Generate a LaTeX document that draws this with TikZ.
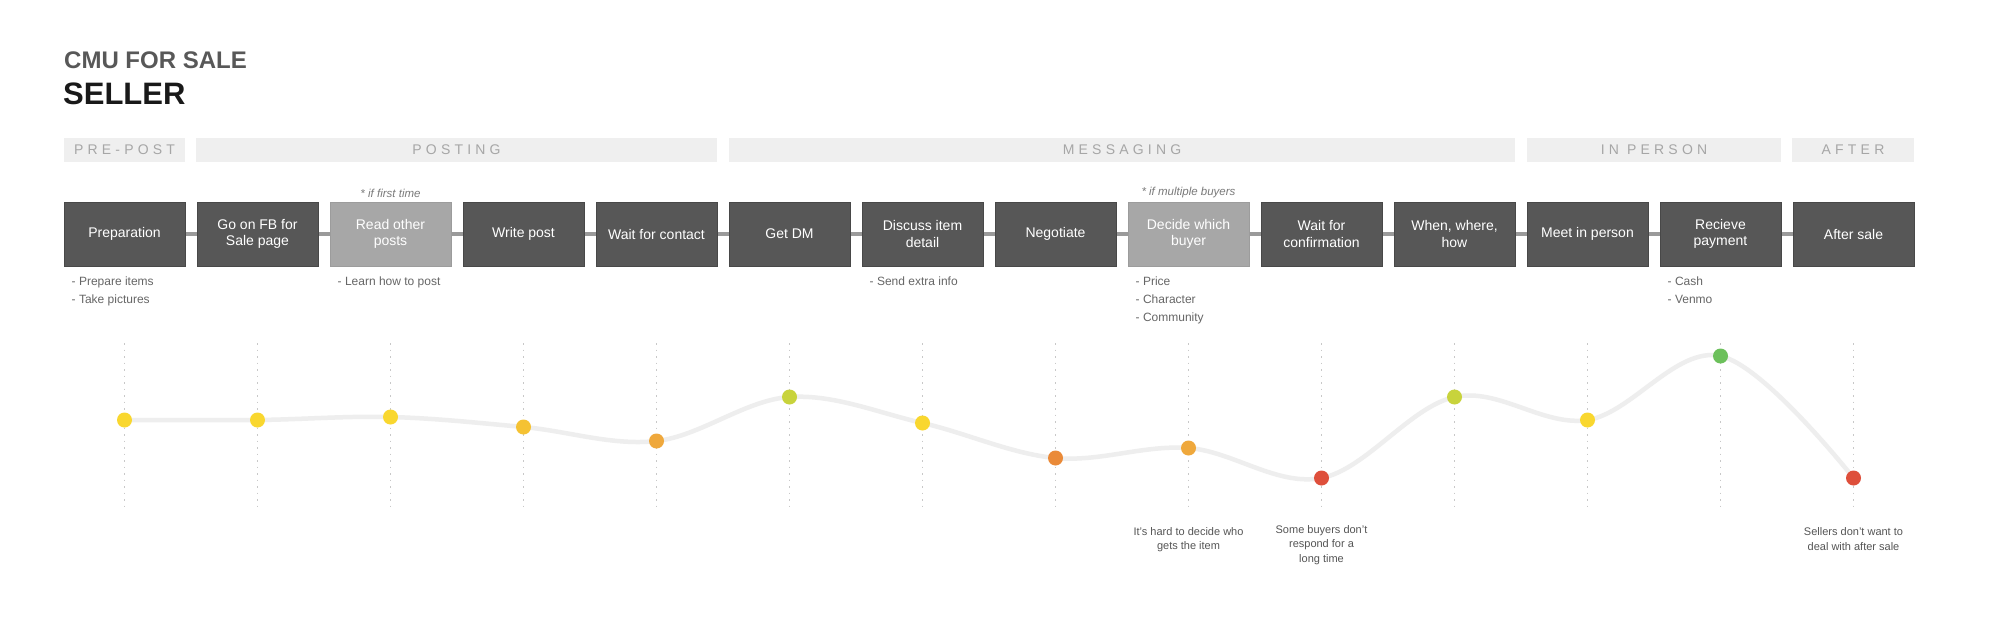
\documentclass[tikz,border=0pt]{standalone}
\usepackage{fontspec}
\setmainfont{Liberation Sans}
\newfontfamily\phasefont[LetterSpace=30]{Liberation Sans}
\definecolor{boxdark}{HTML}{575757}
\definecolor{boxedge}{HTML}{484848}
\definecolor{boxlight}{HTML}{A7A7A7}
\definecolor{boxlightedge}{HTML}{9C9C9C}
\definecolor{phasebg}{HTML}{EFEFEF}
\definecolor{phasetext}{HTML}{A6A6A6}
\definecolor{conncol}{HTML}{9A9A9A}
\definecolor{guidecol}{HTML}{C8C8C8}
\definecolor{curvecol}{HTML}{EEEEEE}
\definecolor{notecol}{HTML}{7A7A7A}
\definecolor{bulletcol}{HTML}{666666}
\definecolor{paincol}{HTML}{555555}
\definecolor{titlegrey}{HTML}{585858}
\definecolor{cyel}{HTML}{F9D72F}
\definecolor{cyelor}{HTML}{F5C233}
\definecolor{corl}{HTML}{EFA83C}
\definecolor{corm}{HTML}{EA8A38}
\definecolor{cred}{HTML}{DE4F3B}
\definecolor{cyg}{HTML}{C8D33C}
\definecolor{cgreen}{HTML}{6CC05B}
\begin{document}
\begin{tikzpicture}[x=1pt,y=-1pt,
  stepbox/.style={rectangle, fill=boxdark, draw=boxedge, line width=1pt,
    minimum width=121pt, minimum height=64pt, inner sep=2pt, text=white,
    align=center, font=\fontsize{14}{16.5}\selectfont},
  lightbox/.style={stepbox, fill=boxlight, draw=boxlightedge},
  phasebar/.style={rectangle, fill=phasebg, minimum height=24pt, inner sep=0pt,
    text=phasetext, font=\phasefont\fontsize{14}{14}\selectfont},
  conn/.style={draw=conncol, line width=3.5pt},
  guide/.style={draw=guidecol, line width=1.3pt, dash pattern=on 1.5pt off 5pt},
  curve/.style={draw=curvecol, line width=4.5pt, line cap=round},
  dot/.style={circle, inner sep=0pt, minimum size=15pt},
  topnote/.style={font=\itshape\fontsize{11.5}{13}\selectfont, text=notecol},
  bullets/.style={anchor=north west, inner sep=0pt, align=left,
    font=\fontsize{12}{18}\selectfont, text=bulletcol},
  pain/.style={align=center, inner sep=0pt, font=\fontsize{11}{14.3}\selectfont, text=paincol}
]
\useasboundingbox[fill=white] (0,0) rectangle (2000,632);

% titles
\node[anchor=base west, inner sep=0pt, text=titlegrey, font=\bfseries\fontsize{24}{24}\selectfont] (t1) at (64,68) {CMU FOR SALE};
\node[anchor=base west, inner sep=0pt, text=black!90, font=\bfseries\fontsize{31}{31}\selectfont] (t2) at (63,104) {SELLER};

% phases
\node[phasebar, minimum width=121pt] (ph1) at (124.5,150) {PRE-POST};
\node[phasebar, minimum width=521pt] (ph2) at (456.5,150) {POSTING};
\node[phasebar, minimum width=786pt] (ph3) at (1122,150) {MESSAGING};
\node[phasebar, minimum width=254pt] (ph4) at (1654,150) {IN PERSON};
\node[phasebar, minimum width=122pt] (ph5) at (1853,150) {AFTER};

% steps
\node[stepbox] (b1) at (124.5,234) {Preparation};
\node[stepbox] (b2) at (257.5,234) {Go on FB for\\Sale page};
\node[lightbox] (b3) at (390.5,234) {Read other\\posts};
\node[stepbox] (b4) at (523.5,234) {Write post};
\node[stepbox] (b5) at (656.5,234) {Wait for contact};
\node[stepbox] (b6) at (789.5,234) {Get DM};
\node[stepbox] (b7) at (922.5,234) {Discuss item\\detail};
\node[stepbox] (b8) at (1055.5,234) {Negotiate};
\node[lightbox] (b9) at (1188.5,234) {Decide which\\buyer};
\node[stepbox] (b10) at (1321.5,234) {Wait for\\confirmation};
\node[stepbox] (b11) at (1454.5,234) {When, where,\\how};
\node[stepbox] (b12) at (1587.5,234) {Meet in person};
\node[stepbox] (b13) at (1720.5,234) {Recieve\\payment};
\node[stepbox] (b14) at (1853.5,234) {After sale};

\foreach \a/\b in {b1/b2,b2/b3,b3/b4,b4/b5,b5/b6,b6/b7,b7/b8,b8/b9,b9/b10,b10/b11,b11/b12,b12/b13,b13/b14}
  \draw[conn] (\a.east) -- (\b.west);

% notes above
\node[topnote] (n3) at (390.5,193) {* if first time};
\node[topnote] (n9) at (1188.5,193) {* if multiple buyers};

% notes below
\node[bullets] (l1) at ([xshift=8pt,yshift=-10pt]b1.south west) {- Prepare items\\- Take pictures};
\node[bullets] (l3) at ([xshift=8pt,yshift=-10pt]b3.south west) {- Learn how to post};
\node[bullets] (l7) at ([xshift=8pt,yshift=-10pt]b7.south west) {- Send extra info};
\node[bullets] (l9) at ([xshift=8pt,yshift=-10pt]b9.south west) {- Price\\- Character\\- Community};
\node[bullets] (l13) at ([xshift=8pt,yshift=-10pt]b13.south west) {- Cash\\- Venmo};

% emotion points
\coordinate (gt) at (0,343);
\coordinate (gb) at (0,512);
\coordinate (p1) at (124.5,420);
\coordinate (p2) at (257.5,420);
\coordinate (p3) at (390.5,417);
\coordinate (p4) at (523.5,427);
\coordinate (p5) at (656.5,441);
\coordinate (p6) at (789.5,397);
\coordinate (p7) at (922.5,423);
\coordinate (p8) at (1055.5,458);
\coordinate (p9) at (1188.5,448);
\coordinate (p10) at (1321.5,478);
\coordinate (p11) at (1454.5,397);
\coordinate (p12) at (1587.5,420);
\coordinate (p13) at (1720.5,356);
\coordinate (p14) at (1853.5,478);

\foreach \i in {1,...,14}
  \draw[guide] (p\i |- gt) -- (p\i |- gb);

\draw[curve] plot[smooth, tension=0.6] coordinates {(p1) (p2) (p3) (p4) (p5) (p6) (p7) (p8) (p9) (p10) (p11) (p12) (p13) (p14)};

\node[dot, fill=cyel] (d1) at (p1) {};
\node[dot, fill=cyel] (d2) at (p2) {};
\node[dot, fill=cyel] (d3) at (p3) {};
\node[dot, fill=cyelor] (d4) at (p4) {};
\node[dot, fill=corl] (d5) at (p5) {};
\node[dot, fill=cyg] (d6) at (p6) {};
\node[dot, fill=cyel] (d7) at (p7) {};
\node[dot, fill=corm] (d8) at (p8) {};
\node[dot, fill=corl] (d9) at (p9) {};
\node[dot, fill=cred] (d10) at (p10) {};
\node[dot, fill=cyg] (d11) at (p11) {};
\node[dot, fill=cyel] (d12) at (p12) {};
\node[dot, fill=cgreen] (d13) at (p13) {};
\node[dot, fill=cred] (d14) at (p14) {};

% pain points
\node[pain] (q9) at (1188.5,539.5) {It's hard to decide who\\gets the item};
\node[pain] (q10) at (1321.5,545) {Some buyers don't\\respond for a\\long time};
\node[pain] (q14) at (1853.5,539) {Sellers don't want to\\deal with after sale};
\end{tikzpicture}
\end{document}
